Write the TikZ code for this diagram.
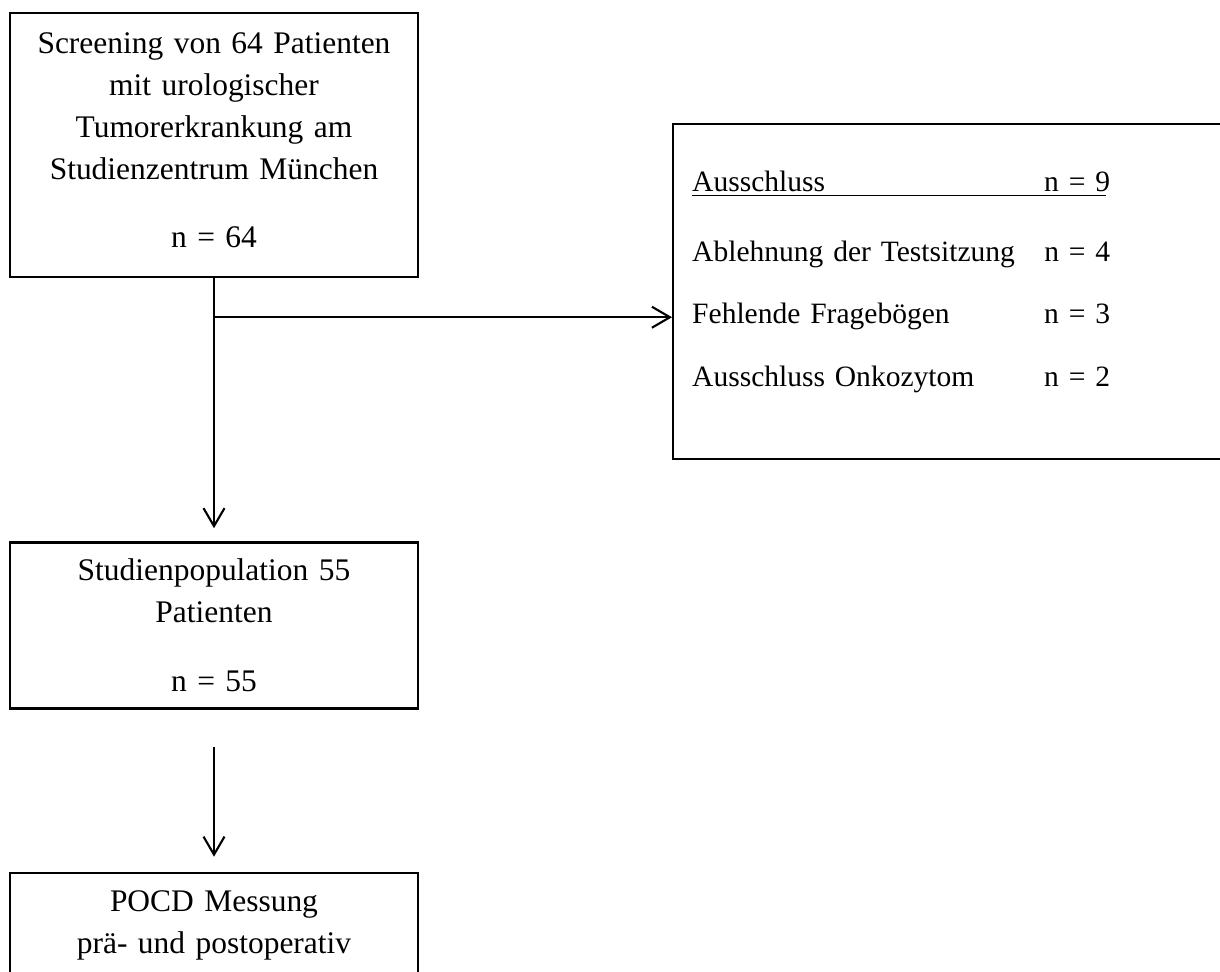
\documentclass[tikz,border=0pt]{standalone}
\usepackage{fontspec}
\setmainfont{Liberation Serif}
\usetikzlibrary{arrows.meta, positioning, calc}
\tikzset{
	stage/.style={rectangle, draw=black, line width=1.4pt, align=center, text width=7.9cm, minimum width=8.16cm, inner sep=0pt, font=\fontsize{17.9pt}{23.9pt}\selectfont},
	exclbox/.style={rectangle, draw=black, line width=1.4pt, align=left, text width=10.44cm, inner xsep=0.38cm, inner ysep=0pt, minimum width=11.2cm, minimum height=6.7cm, font=\fontsize{16.8pt}{23.9pt}\selectfont},
	arrow/.style={-{Straight Barb[length=0.36cm, width=0.42cm, line width=1.2pt]}, line width=1.2pt, draw=black},
}

\begin{document}
\begin{tikzpicture}[node distance=5.26cm]
	\clip (0,0) rectangle (24.4,-19.44);
	\node[stage, minimum height=5.28cm] (screen) at (4.28,-2.90) {Screening von 64 Patienten\\mit urologischer\\Tumorerkrankung am\\Studienzentrum München\\[0.52cm]n = 64\rule[-0.19cm]{0pt}{0pt}};
	\node[stage, minimum height=3.32cm, below=of screen] (study) {Studienpopulation 55\\Patienten\\[0.54cm]n = 55};
	\node[stage, minimum height=2.12cm, below=3.24cm of study] (pocd) {POCD Messung\\prä- und postoperativ};
	\node[exclbox, anchor=north west] (excl) at (13.44,-2.46) {\rlap{\rule[-0.1cm]{8.28cm}{0.03cm}}\makebox[7.04cm][l]{Ausschluss}n = 9\\[0.56cm]
		\makebox[7.04cm][l]{Ablehnung der Testsitzung}n = 4\\[0.4cm]
		\makebox[7.04cm][l]{Fehlende Fragebögen}n = 3\\[0.42cm]
		\makebox[7.04cm][l]{Ausschluss Onkozytom}n = 2\rule[-0.53cm]{0pt}{0pt}};
	\coordinate[below=0.78cm of screen] (branch);
	\draw[arrow, shorten >=0.26cm] (screen) -- (study);
	\draw[arrow] (branch) -- (branch -| excl.west);
	\draw[arrow, shorten <=0.74cm, shorten >=0.3cm] (study) -- (pocd);
\end{tikzpicture}
\end{document}
